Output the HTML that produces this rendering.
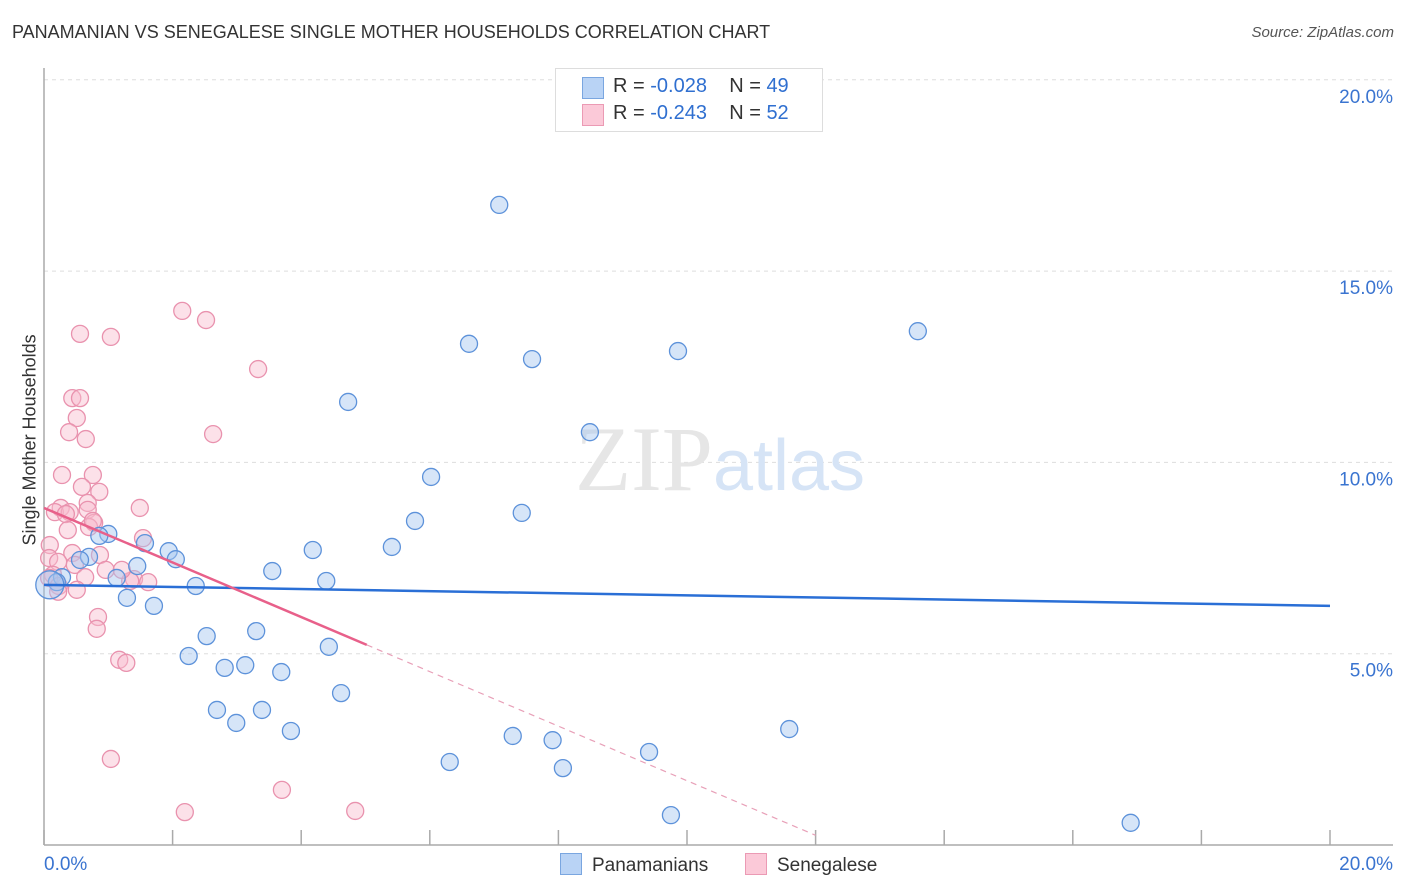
<!DOCTYPE html>
<html><head><meta charset="utf-8"><style>
body{margin:0;background:#fff;font-family:"Liberation Sans",sans-serif;}
#wrap{position:relative;width:1406px;height:892px;overflow:hidden;}
.t{position:absolute;white-space:nowrap;}
</style></head><body>
<div id="wrap">
<div class="t" style="left:12px;top:22px;font-size:18px;color:#333;">PANAMANIAN VS SENEGALESE SINGLE MOTHER HOUSEHOLDS CORRELATION CHART</div>
<div class="t" style="right:12px;top:24px;font-size:15px;color:#555;font-style:italic;">Source: ZipAtlas.com</div>
<div class="t" style="left:-60px;top:445px;font-size:18px;color:#333;transform:rotate(-90deg);transform-origin:center;width:180px;text-align:center;">Single Mother Households</div>
<svg id="svg" width="1406" height="892" style="position:absolute;left:0;top:0"></svg>
<div style="position:absolute;left:555px;top:68px;width:266px;height:62px;border:1px solid #ddd;background:#fff;font-size:20px;">
 <div style="position:absolute;left:26px;top:8px;width:20px;height:20px;background:#b9d3f5;border:1px solid #7aa6e0;"></div>
 <div class="t" style="left:57px;top:6px;color:#333;">R = <span style="color:#2f6fd0">-0.028</span>&nbsp;&nbsp;&nbsp; N = <span style="color:#2f6fd0">49</span></div>
 <div style="position:absolute;left:26px;top:35px;width:20px;height:20px;background:#fbc9d8;border:1px solid #eb9ab4;"></div>
 <div class="t" style="left:57px;top:33px;color:#333;">R = <span style="color:#2f6fd0">-0.243</span>&nbsp;&nbsp;&nbsp; N = <span style="color:#2f6fd0">52</span></div>
</div>
<div style="position:absolute;left:560px;top:853px;font-size:19px;color:#333;">
 <span style="display:inline-block;width:20px;height:20px;background:#b9d3f5;border:1px solid #7aa6e0;vertical-align:-4px;margin-right:10px;"></span>Panamanians</div>
<div style="position:absolute;left:745px;top:853px;font-size:19px;color:#333;">
 <span style="display:inline-block;width:20px;height:20px;background:#fbc9d8;border:1px solid #eb9ab4;vertical-align:-4px;margin-right:10px;"></span>Senegalese</div>
</div>
<script>
const yTicks=[5,10,15,20];
const yTickLabels=["5.0%","10.0%","15.0%","20.0%"];
const xTickLabels=["0.0%","20.0%"];
const blueX=[7.08,13.59,6.61,7.59,9.86,4.73,8.49,6.02,5.77,7.43,5.41,4.18,1.00,0.86,1.57,1.94,2.05,0.70,0.56,1.45,3.55,4.39,1.13,0.28,0.20,0.09,2.36,1.29,1.71,2.53,3.30,4.43,2.25,2.81,3.13,3.69,4.62,2.69,3.39,2.99,3.84,11.59,7.29,7.91,9.41,6.31,8.07,9.75,16.90];
const blueY=[16.73,13.43,13.10,12.70,12.91,11.58,10.79,9.62,8.47,8.68,7.79,7.71,8.13,8.08,7.89,7.68,7.47,7.53,7.45,7.29,7.16,6.90,6.98,7.00,6.87,6.80,6.77,6.46,6.25,5.46,5.59,5.18,4.94,4.63,4.70,4.52,3.97,3.53,3.53,3.19,2.98,3.03,2.85,2.74,2.43,2.17,2.01,0.78,0.58];
const pinkX=[2.15,2.52,0.56,1.04,3.33,0.44,0.56,0.51,0.39,0.65,2.63,0.28,0.76,0.59,0.86,0.68,0.26,0.17,0.68,1.49,0.40,0.34,0.78,0.70,0.37,1.54,0.09,0.44,0.08,0.87,0.22,0.48,0.96,0.14,0.64,0.08,1.40,0.23,1.34,1.62,0.51,0.84,0.82,1.17,1.28,1.04,3.70,2.19,4.84,0.22,1.21,0.76];
const pinkY=[13.96,13.72,13.36,13.28,12.44,11.68,11.68,11.16,10.79,10.61,10.74,9.67,9.67,9.36,9.23,8.94,8.81,8.70,8.76,8.81,8.70,8.65,8.42,8.31,8.23,8.02,7.84,7.63,7.50,7.58,7.40,7.32,7.19,7.06,7.00,6.98,6.95,6.77,6.90,6.87,6.67,5.96,5.65,4.84,4.76,2.25,1.44,0.86,0.89,6.62,7.19,8.47];
const blueTrend=[6.80,-0.0275]; // intercept, slope
const pinkTrend=[8.81,-0.713];
const pinkSolidEnd=5.02, pinkDashEnd=12.0;

const X=v=>44+v/20*1286;
const Y=v=>845-v/5*191.3;
const svg=document.getElementById('svg');
const NS='http://www.w3.org/2000/svg';
function mk(tag,attrs){const e=document.createElementNS(NS,tag);for(const k in attrs)e.setAttribute(k,attrs[k]);svg.appendChild(e);return e;}
yTicks.forEach((t,i)=>{
 const g=mk('line',{x1:44,x2:1393,y1:Y(t),y2:Y(t),stroke:'#ddd','stroke-dasharray':'4,4'});
 
 
 const tx=mk('text',{x:1393,y:Y(t)+23,'text-anchor':'end','font-size':19,fill:'#3a74d0','font-family':'Liberation Sans'});
 tx.textContent=yTickLabels[i];
 
 
});
const ax=mk('line',{x1:44,x2:44,y1:68,y2:845,stroke:'#aaa','stroke-width':1.5});


const bx=mk('line',{x1:44,x2:1393,y1:845,y2:845,stroke:'#aaa','stroke-width':1.5});


for(let i=0;i<=10;i++){
 const tk=mk('line',{x1:X(i*2),x2:X(i*2),y1:830,y2:845,stroke:'#aaa','stroke-width':1.5});
 
 
}
[[0,'start',44],[20,'end',1393]].forEach((a,i)=>{
 const tx=mk('text',{x:a[2],y:870,'text-anchor':a[1],'font-size':19,fill:'#3a74d0','font-family':'Liberation Sans'});
 tx.textContent=xTickLabels[i];
 
 
});
const wm=mk('text',{x:720,y:490,'text-anchor':'middle','font-size':92,fill:'#e6e6e6','font-family':'Liberation Serif'});
wm.innerHTML='ZIP<tspan fill="#d6e4f6" font-family="Liberation Sans" font-size="72">atlas</tspan>';


function dots(xs,ys,fill,stroke,name){
 xs.forEach((x,i)=>{
  const c=mk('circle',{cx:X(x),cy:Y(ys[i]),r:i===25&&name==='panamanian-point'?14:8.5,fill:fill,stroke:stroke,'stroke-width':1.3});
  
  
 });
}
dots(pinkX,pinkY,'rgba(248,188,206,0.45)','#e992ae','senegalese-point');
dots(blueX,blueY,'rgba(164,198,240,0.45)','#5d92da','panamanian-point');
const bl=mk('line',{x1:X(0),y1:Y(blueTrend[0]),x2:X(20),y2:Y(blueTrend[0]+blueTrend[1]*20),stroke:'#2a6fd6','stroke-width':2.5});


const pl=mk('line',{x1:X(0),y1:Y(pinkTrend[0]),x2:X(pinkSolidEnd),y2:Y(pinkTrend[0]+pinkTrend[1]*pinkSolidEnd),stroke:'#e8608a','stroke-width':2.5});


const pd=mk('line',{x1:X(pinkSolidEnd),y1:Y(pinkTrend[0]+pinkTrend[1]*pinkSolidEnd),x2:X(pinkDashEnd),y2:Y(pinkTrend[0]+pinkTrend[1]*pinkDashEnd),stroke:'#e8a0b8','stroke-width':1.2,'stroke-dasharray':'6,5'});


</script>
</body></html>
